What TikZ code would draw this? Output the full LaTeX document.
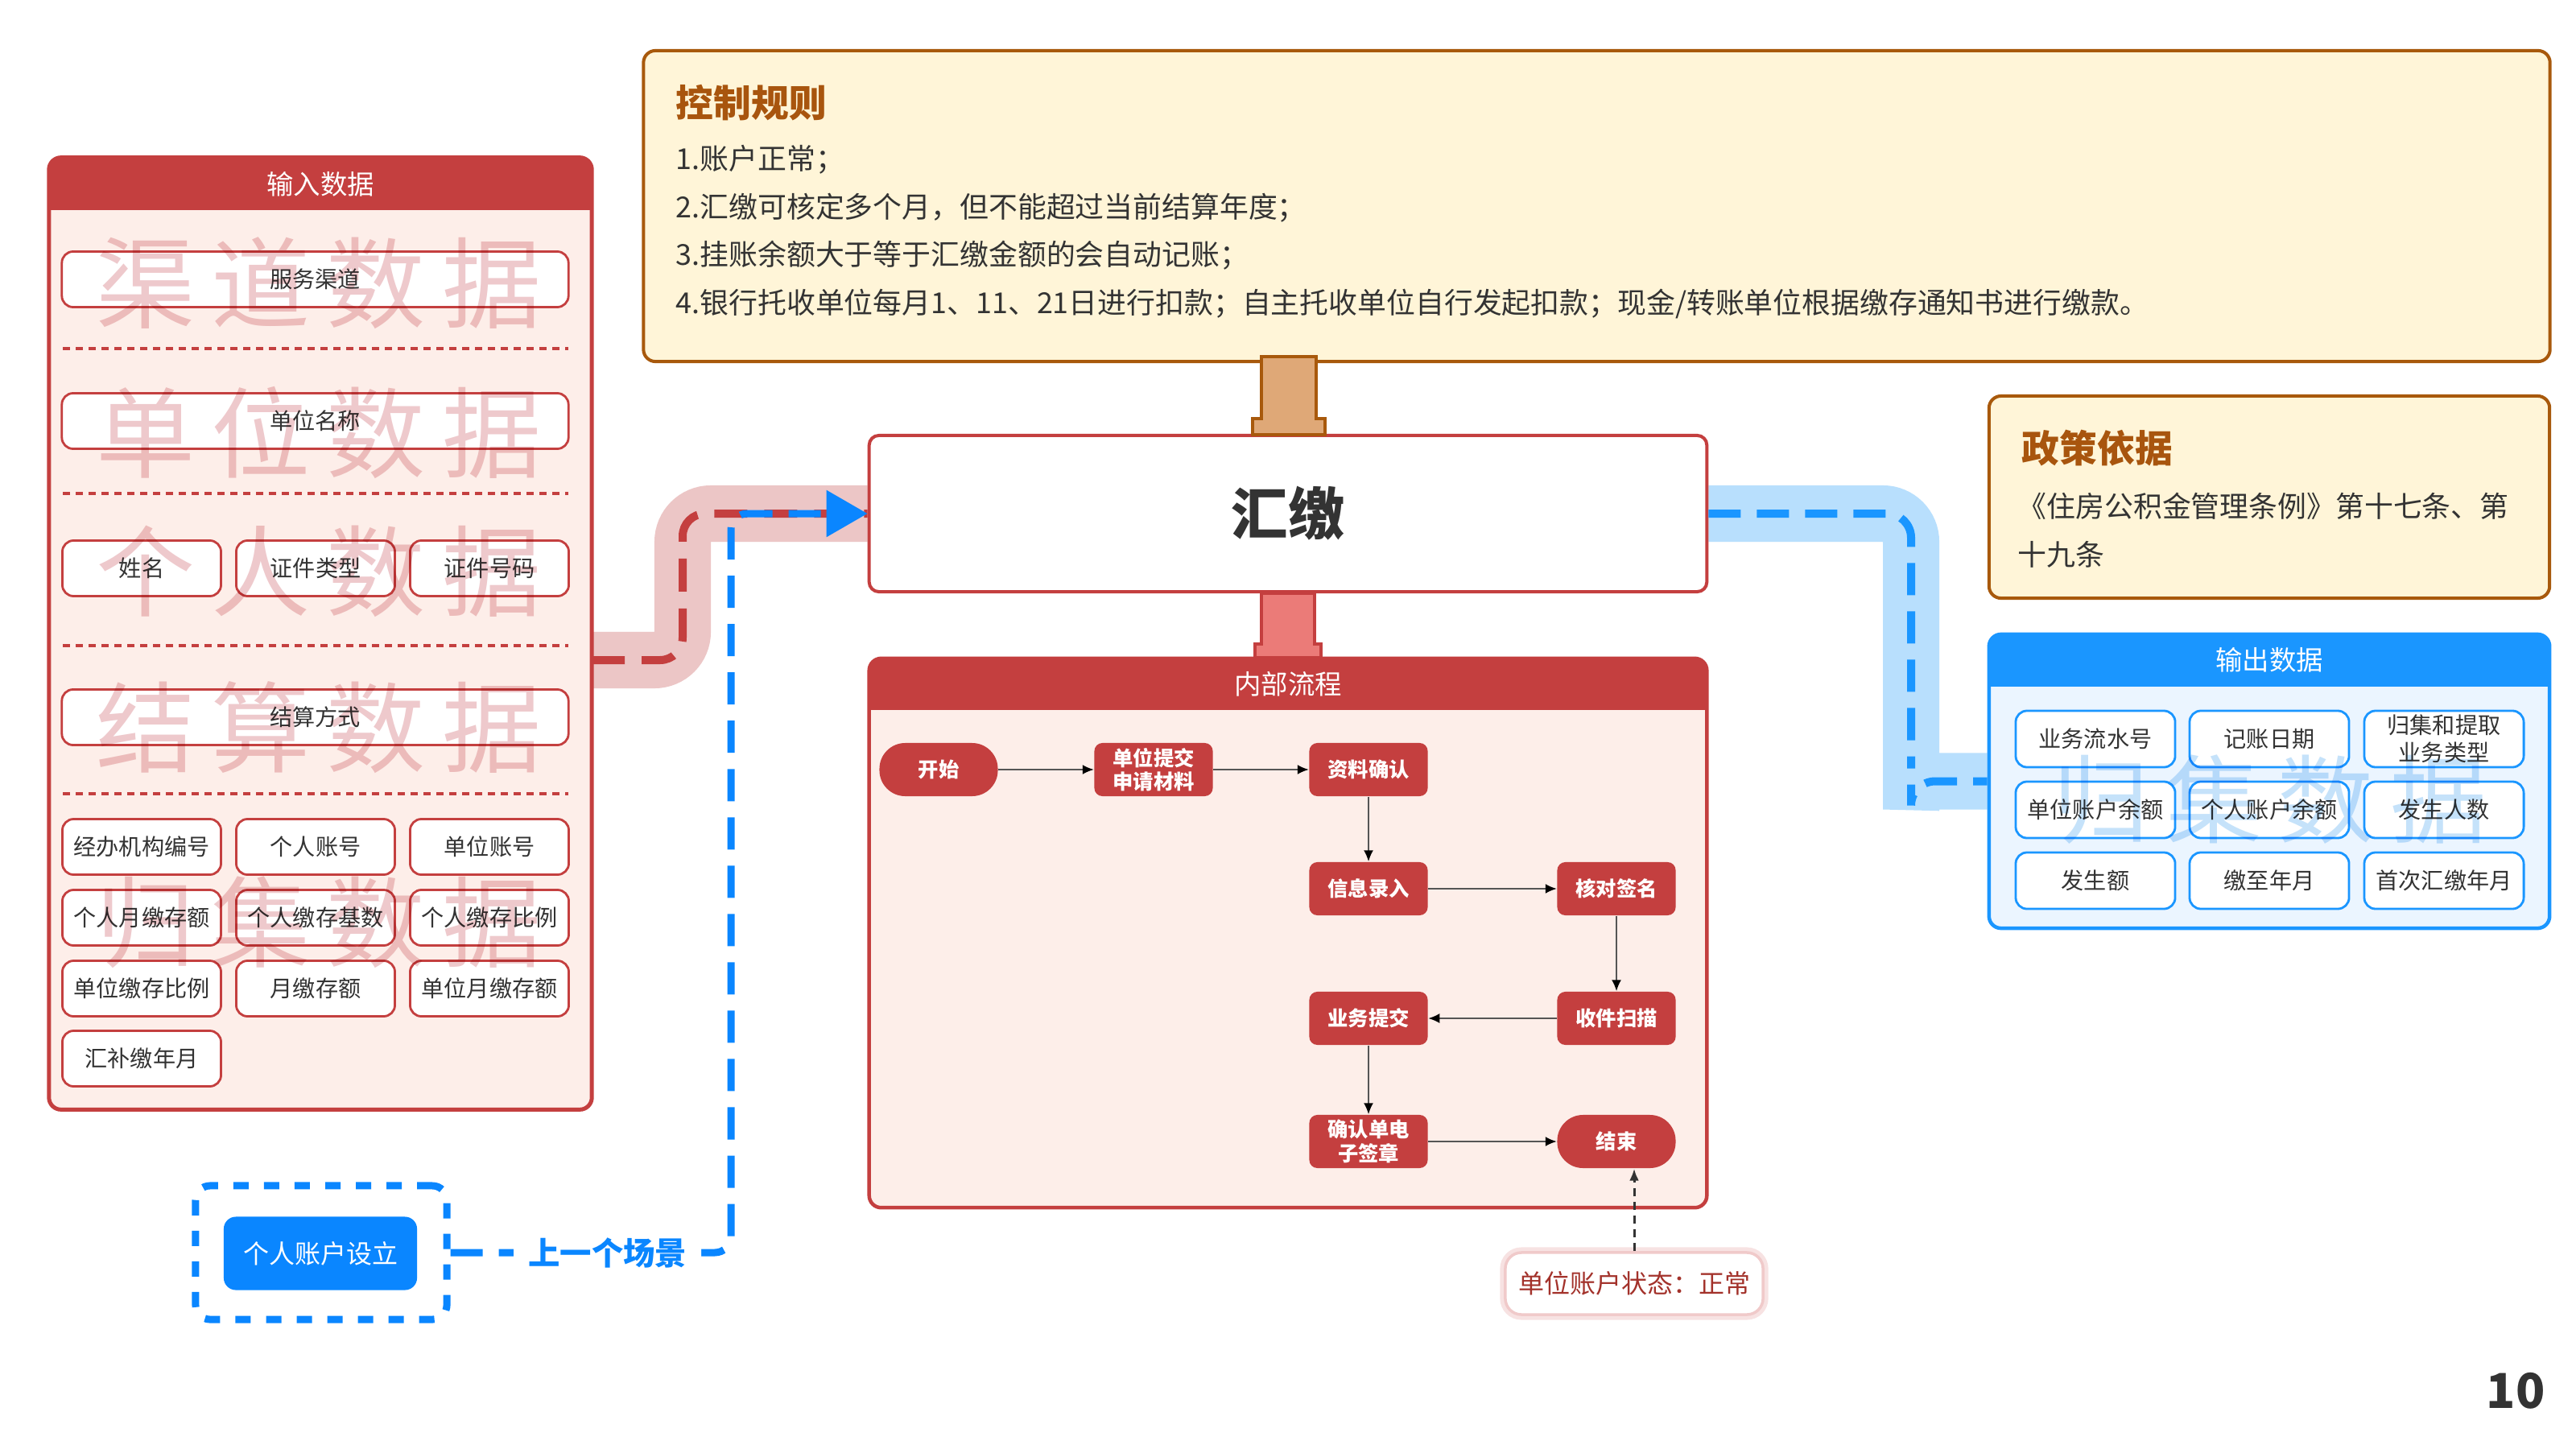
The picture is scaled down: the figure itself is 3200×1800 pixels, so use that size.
\documentclass[tikz,border=0pt]{standalone}
\usepackage{fontspec}
\setmainfont{Noto Sans CJK SC}
\usetikzlibrary{arrows.meta,calc}
\pgfdeclarelayer{bg}
\pgfsetlayers{bg,main}
\definecolor{cRed}{HTML}{C43F3F}
\definecolor{cBody}{HTML}{FDEEE9}
\definecolor{cText}{HTML}{333333}
\definecolor{cWmR}{HTML}{EEC9CC}
\definecolor{cBandR}{HTML}{ECC6C6}
\definecolor{cBlue}{HTML}{1A96FF}
\definecolor{cBlueBody}{HTML}{EBF5FF}
\definecolor{cBandB}{HTML}{B8DFFD}
\definecolor{cWmB}{HTML}{C5E2FA}
\definecolor{cBlueDeep}{HTML}{0A86FF}
\definecolor{cCream}{HTML}{FFF5D8}
\definecolor{cBrown}{HTML}{A8590C}
\definecolor{cTitle}{HTML}{A8550E}
\definecolor{cTan}{HTML}{DFA877}
\definecolor{cSalmon}{HTML}{EB7B78}
\definecolor{cNote}{HTML}{A3322B}
\definecolor{cGlow}{HTML}{F0CACA}
\definecolor{cFlowLine}{HTML}{555555}
\begin{document}
\begin{tikzpicture}[x=0.01cm, y=-0.01cm,
  redpanel/.style={draw=cRed, line width=0.05cm, fill=cBody, rounded corners=0.15cm, inner sep=0pt},
  bluepanel/.style={draw=cBlue, line width=0.045cm, fill=cBlueBody, rounded corners=0.15cm, inner sep=0pt},
  headtext/.style={text=white, font=\fontsize{9.5pt}{11pt}\selectfont, inner sep=0pt},
  ibox/.style={draw=cRed, line width=0.028cm, fill=white, rounded corners=0.14cm, minimum height=0.69cm, inner sep=0pt, text=cText, font=\fontsize{8pt}{9.6pt}\selectfont, align=center},
  iboxs/.style={ibox, minimum width=1.97cm},
  iboxw/.style={ibox, minimum width=6.29cm},
  oboxs/.style={ibox, draw=cBlue, minimum width=1.98cm, minimum height=0.70cm},
  sepline/.style={draw=cRed, line width=0.04cm, dash pattern=on 0.09cm off 0.07cm},
  wmr/.style={text=cWmR, font=\fontsize{35pt}{36pt}\selectfont, inner sep=0pt},
  wmb/.style={text=cWmB, font=\fontsize{34pt}{36pt}\selectfont, inner sep=0pt},
  flow/.style={fill=cRed, text=white, font=\bfseries\fontsize{7.2pt}{8.4pt}\selectfont, minimum width=1.47cm, minimum height=0.66cm, rounded corners=0.1cm, inner sep=0pt, align=center},
  term/.style={flow, rounded corners=0.32cm},
  farrow/.style={draw=cFlowLine, line width=0.02cm, -{Latex[length=0.14cm,width=0.12cm,color=black]}},
  bandr/.style={draw=cBandR, line width=0.7cm, rounded corners=0.35cm},
  bandb/.style={draw=cBandB, line width=0.7cm, rounded corners=0.35cm},
  reddash/.style={draw=cRed, line width=0.1cm, dash pattern=on 0.41cm off 0.21cm, rounded corners=0.28cm},
  bluedash/.style={draw=cBlue, line width=0.1cm, dash pattern=on 0.4cm off 0.2cm, rounded corners=0.3cm},
  prevdash/.style={draw=cBlueDeep, line width=0.09cm, dash pattern=on 0.4cm off 0.2cm, rounded corners=0.2cm},
  rulebox/.style={fill=cCream, draw=cBrown, line width=0.04cm, rounded corners=0.15cm, inner sep=0pt},
  ruletitle/.style={text=cTitle, font=\bfseries\fontsize{13.3pt}{15pt}\selectfont, inner sep=0pt, anchor=west},
  ruletext/.style={text=cText, font=\fontsize{10.2pt}{17pt}\selectfont, inner sep=0pt, anchor=west, align=left}
]
\begin{pgfonlayer}{bg}
\fill[white] (0,0) rectangle (3200,1800);
\end{pgfonlayer}
\useasboundingbox (0,0) rectangle (3200,1800);

% ---------------- control rules
\node[rulebox, minimum width=23.67cm, minimum height=3.86cm] (ctrl) at (1983.5,256) {};
\node[ruletitle] (ctrltitle) at (839,128) {控制规则};
\node[ruletext] (ctrltext) at (839,288) {1.账户正常；\\2.汇缴可核定多个月，但不能超过当前结算年度；\\3.挂账余额大于等于汇缴金额的会自动记账；\\4.银行托收单位每月1、11、21日进行扣款；自主托收单位自行发起扣款；现金/转账单位根据缴存通知书进行缴款。};

% ---------------- policy
\node[rulebox, minimum width=6.96cm, minimum height=2.51cm] (policy) at (2819,617.5) {};
\node[ruletitle] (poltitle) at (2511,557) {政策依据};
\node[ruletext] (poltext) at (2506,658.5) {《住房公积金管理条例》第十七条、第\\十九条};

% ---------------- center box
\node[draw=cRed, line width=0.04cm, fill=white, rounded corners=0.12cm, minimum width=10.4cm, minimum height=1.94cm, text=cText, font=\bfseries\fontsize{20pt}{22pt}\selectfont] (huijiao) at (1600,638) {汇缴};

% ---------------- input panel
\node[redpanel, minimum width=6.74cm, minimum height=11.82cm,
  path picture={\fill[cRed, sharp corners] (path picture bounding box.north west) rectangle ([yshift=-0.65cm]path picture bounding box.north east);}] (inpanel) at (398,787) {};
\node[headtext] (inhead) at (398,229) {输入数据};

\node[iboxw] (b1) at (391.5,347) {服务渠道};
\node[iboxw] (b2) at (391.5,523) {单位名称};
\node[iboxs] (b3) at (176,706) {姓名};
\node[iboxs] (b4) at (392,706) {证件类型};
\node[iboxs] (b5) at (608,706) {证件号码};
\node[iboxw] (b6) at (391.5,891) {结算方式};
\node[iboxs] (b7) at (176,1052) {经办机构编号};
\node[iboxs] (b8) at (392,1052) {个人账号};
\node[iboxs] (b9) at (608,1052) {单位账号};
\node[iboxs] (b10) at (176,1140) {个人月缴存额};
\node[iboxs] (b11) at (392,1140) {个人缴存基数};
\node[iboxs] (b12) at (608,1140) {个人缴存比例};
\node[iboxs] (b13) at (176,1228) {单位缴存比例};
\node[iboxs] (b14) at (392,1228) {月缴存额};
\node[iboxs] (b15) at (608,1228) {单位月缴存额};
\node[iboxs] (b16) at (176,1315) {汇补缴年月};

\draw[sepline] (78,433) -- (706,433);
\draw[sepline] (78,613) -- (706,613);
\draw[sepline] (78,802) -- (706,802);
\draw[sepline] (78,986) -- (706,986);

% ---------------- output panel
\node[bluepanel, minimum width=6.96cm, minimum height=3.65cm,
  path picture={\fill[cBlue, sharp corners] (path picture bounding box.north west) rectangle ([yshift=-0.65cm]path picture bounding box.north east);}] (outpanel) at (2819,970.5) {};
\node[headtext] (outhead) at (2819,820) {输出数据};
\node[oboxs] (o1) at (2603,918) {业务流水号};
\node[oboxs] (o2) at (2819,918) {记账日期};
\node[oboxs] (o3) at (3036,918) {归集和提取\\业务类型};
\node[oboxs] (o4) at (2603,1006) {单位账户余额};
\node[oboxs] (o5) at (2819,1006) {个人账户余额};
\node[oboxs] (o6) at (3036,1006) {发生人数};
\node[oboxs] (o7) at (2603,1094) {发生额};
\node[oboxs] (o8) at (2819,1094) {缴至年月};
\node[oboxs] (o9) at (3036,1094) {首次汇缴年月};

% ---------------- watermarks
\begin{scope}[blend mode=multiply]
\node[wmr] (w1) at (396,352) {渠\hspace{0.2cm}道\hspace{0.2cm}数\hspace{0.2cm}据};
\node[wmr] (w2) at (396,537) {单\hspace{0.2cm}位\hspace{0.2cm}数\hspace{0.2cm}据};
\node[wmr] (w3) at (396,710) {个\hspace{0.2cm}人\hspace{0.2cm}数\hspace{0.2cm}据};
\node[wmr] (w4) at (396,904) {结\hspace{0.2cm}算\hspace{0.2cm}数\hspace{0.2cm}据};
\node[wmr] (w5) at (396,1146) {归\hspace{0.2cm}集\hspace{0.2cm}数\hspace{0.2cm}据};
\node[wmb] (w6) at (2820,993) {归\hspace{0.2cm}集\hspace{0.2cm}数\hspace{0.2cm}据};
\end{scope}

% ---------------- internal flow panel
\node[redpanel, line width=0.045cm, minimum width=10.4cm, minimum height=6.82cm,
  path picture={\fill[cRed, sharp corners] (path picture bounding box.north west) rectangle ([yshift=-0.64cm]path picture bounding box.north east);}] (flowpanel) at (1600,1159) {};
\node[headtext] (flowhead) at (1600,850) {内部流程};

\node[term] (ks) at (1166,956) {开始};
\node[flow] (dw) at (1433,956) {单位提交\\申请材料};
\node[flow] (zl) at (1700,956) {资料确认};
\node[flow] (xx) at (1700,1104) {信息录入};
\node[flow] (hd) at (2008,1104) {核对签名};
\node[flow] (sj) at (2008,1265) {收件扫描};
\node[flow] (yw) at (1700,1265) {业务提交};
\node[flow] (qr) at (1700,1418) {确认单电\\子签章};
\node[term] (js) at (2008,1418) {结束};

\draw[farrow] (ks) -- (dw);
\draw[farrow] (dw) -- (zl);
\draw[farrow] (zl) -- (xx);
\draw[farrow] (xx) -- (hd);
\draw[farrow] (hd) -- (sj);
\draw[farrow] (sj) -- (yw);
\draw[farrow] (yw) -- (qr);
\draw[farrow] (qr) -- (js);

% ---------------- note
\node[fill=white, draw=cGlow, line width=0.035cm, rounded corners=0.2cm, preaction={draw=cGlow!55, line width=0.13cm},
  minimum width=3.2cm, minimum height=0.77cm, text=cNote, font=\fontsize{9.1pt}{11pt}\selectfont] (note) at (2030,1594.5) {单位账户状态：正常};
\draw[draw=cText, line width=0.03cm, dash pattern=on 0.1cm off 0.07cm, -{Latex[length=0.15cm,width=0.12cm]}] (note.north) -- (note.north |- js.south);

% ---------------- connectors blocks
\draw[fill=cTan, draw=cBrown, line width=0.035cm] (1567,443) -- (1635,443) -- (1635,520) -- (1646,520) -- (1646,540) -- (1556,540) -- (1556,520) -- (1567,520) -- cycle;
\draw[fill=cSalmon, draw=cRed, line width=0.035cm] (1567,737) -- (1633,737) -- (1633,800) -- (1641,800) -- (1641,817) -- (1559,817) -- (1559,800) -- (1567,800) -- cycle;

% ---------------- previous scene
\node[draw=cBlueDeep, line width=0.09cm, dash pattern=on 0.19cm off 0.19cm, rounded corners=0.18cm, minimum width=3.12cm, minimum height=1.66cm] (prevframe) at (399,1556) {};
\node[fill=cBlueDeep, text=white, rounded corners=0.15cm, minimum width=2.4cm, minimum height=0.91cm, font=\fontsize{9.1pt}{11pt}\selectfont] (prevbox) at (398,1557) {个人账户设立};

% ---------------- bands and dashed flows
\coordinate (rs) at (735,820);
\coordinate (rc) at (848,638);
\coordinate (bc) at (908,638);
\coordinate (rc2) at (2374,971);
\begin{pgfonlayer}{bg}
\draw[bandr] (rs) -| (rc) -- (huijiao.west);
\draw[bandb] (huijiao.east) -| (rc2) |- (outpanel.west);
\end{pgfonlayer}
\draw[reddash] (rs) -| (rc) -- (huijiao.west);
\draw[bluedash] (huijiao.east) -| (rc2) |- (outpanel.west);
\draw[prevdash, -{Triangle[length=0.51cm,width=0.56cm]}] (prevframe.east) -| node[pos=0.28, fill=white, inner sep=0.18cm, text=cBlueDeep, font=\bfseries\fontsize{11.2pt}{13pt}\selectfont] (prevlabel) {上一个场景} (bc) -- (huijiao.west);

% ---------------- page number
\node[text=cText, font=\bfseries\fontsize{17pt}{20pt}\selectfont, inner sep=0pt] (pagenum) at (3125,1728) {10};
\end{tikzpicture}
\end{document}
